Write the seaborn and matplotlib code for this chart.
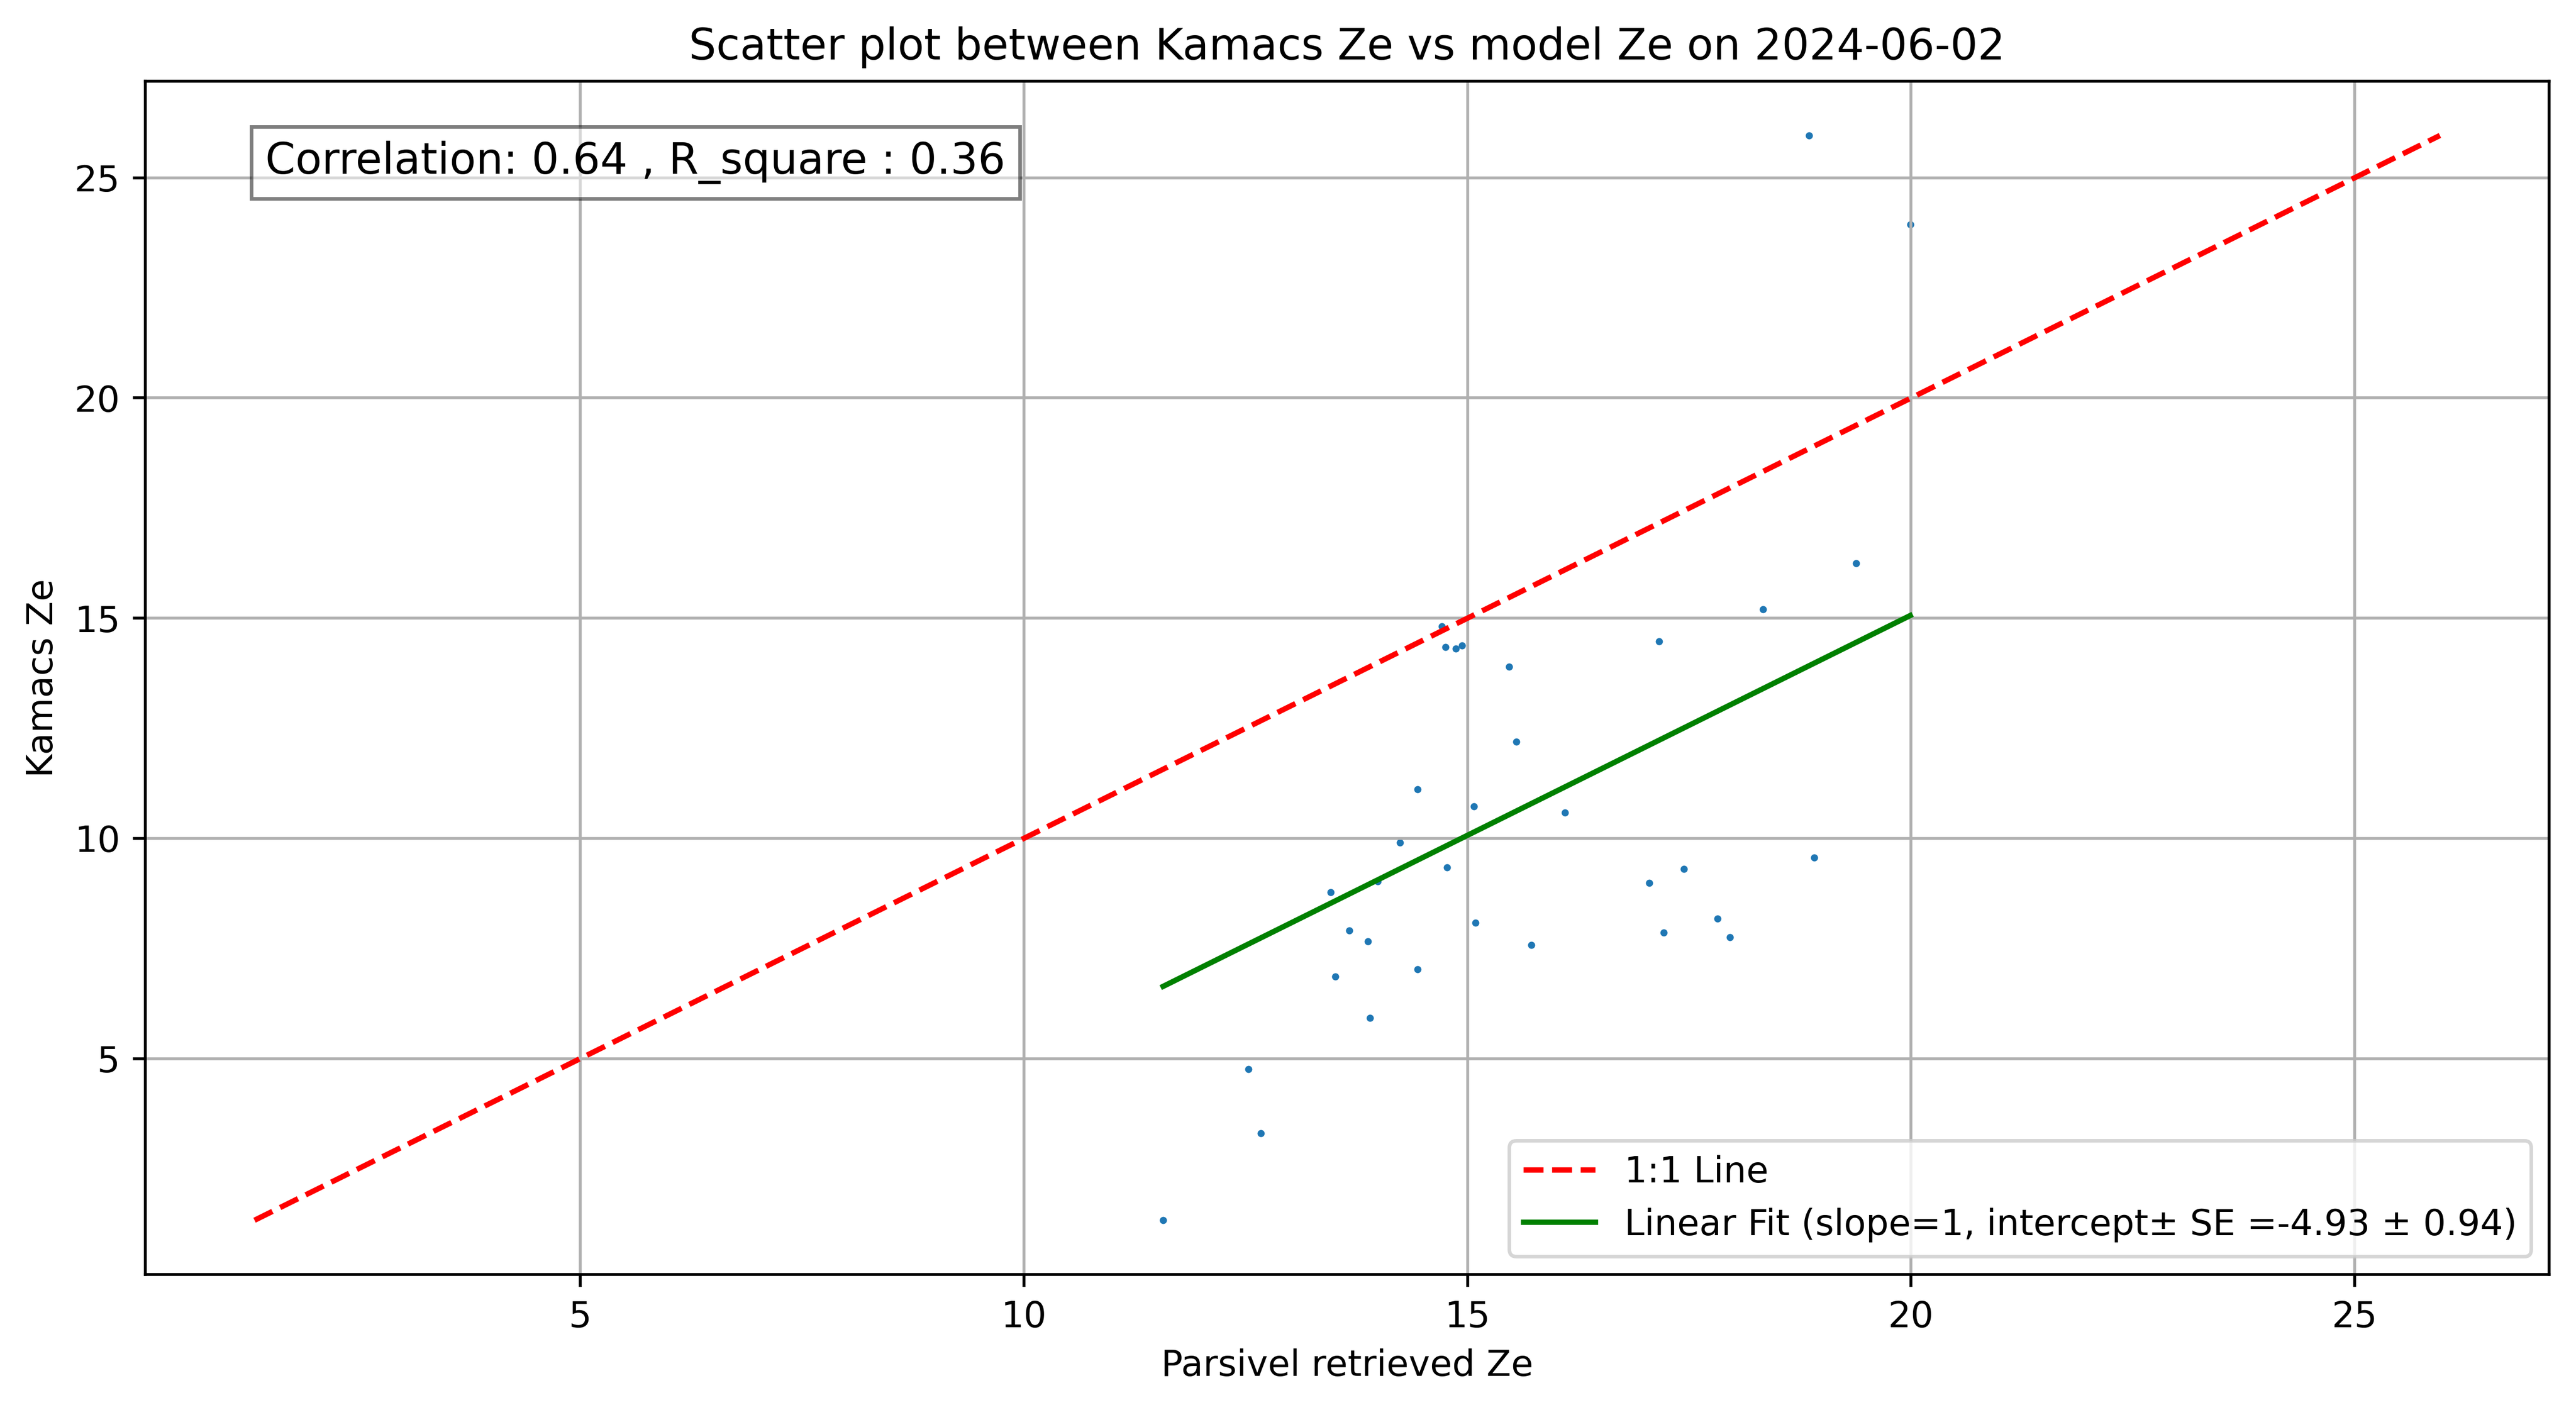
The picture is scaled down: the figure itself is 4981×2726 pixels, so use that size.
import numpy as np
import pandas as pd
import seaborn as sns
import matplotlib.pyplot as plt

# Parsivel retrieved Ze (x) vs Kamacs Ze (y)
parsivel_ze = [18.85, 19.99, 19.38, 18.33, 17.16, 14.71, 14.75, 14.87, 14.94,
               15.47, 15.55, 14.44, 15.07, 16.10, 14.24, 14.77, 18.91, 17.44,
               17.05, 13.99, 13.46, 15.09, 13.67, 13.88, 15.72, 17.82, 17.21,
               17.96, 14.44, 13.51, 13.90, 12.53, 12.67, 11.57]
kamacs_ze = [25.96, 23.94, 16.25, 15.20, 14.47, 14.81, 14.34, 14.31, 14.38,
             13.90, 12.19, 11.11, 10.73, 10.59, 9.90, 9.34, 9.57, 9.31,
             8.99, 9.02, 8.78, 8.09, 7.91, 7.66, 7.58, 8.18, 7.86,
             7.76, 7.03, 6.86, 5.92, 4.76, 3.31, 1.33]

# stats shown in the chart
correlation = 0.64
r_square = 0.36
intercept = -4.93
intercept_se = 0.94
plot_date = "2024-06-02"

df = pd.DataFrame({"parsivel": parsivel_ze, "kamacs": kamacs_ze})

# 1:1 line over the full data range
lo = min(df["parsivel"].min(), df["kamacs"].min())
hi = max(df["parsivel"].max(), df["kamacs"].max())
one_to_one = pd.DataFrame({"x": [lo, hi], "y": [lo, hi]})

# fixed slope fit (slope = 1) over the x range
fit_x = np.array([df["parsivel"].min(), df["parsivel"].max()])
fit = pd.DataFrame({"x": fit_x, "y": fit_x + intercept})

fig, ax = plt.subplots(figsize=(4981 / 500, 2726 / 500))
fig.subplots_adjust(left=0.0564, right=0.9896, top=0.9424, bottom=0.0961)

sns.scatterplot(data=df, x="parsivel", y="kamacs", s=4, linewidth=0,
                color="#1f77b4", ax=ax)
sns.lineplot(data=one_to_one, x="x", y="y", color="red", linestyle="--",
             linewidth=1.5, label="1:1 Line", ax=ax)
sns.lineplot(data=fit, x="x", y="y", color="green", linewidth=1.5,
             label=f"Linear Fit (slope=1, intercept\u00b1 SE ={intercept:.2f} \u00b1 {intercept_se:.2f})",
             ax=ax)

ax.text(0.05, 0.95, f"Correlation: {correlation:.2f} , R_square : {r_square:.2f}",
        transform=ax.transAxes, fontsize=12, va="top",
        bbox=dict(facecolor="white", alpha=0.5))

ax.set_xticks([5, 10, 15, 20, 25])
ax.set_yticks([5, 10, 15, 20, 25])
ax.set_xlabel("Parsivel retrieved Ze")
ax.set_ylabel("Kamacs Ze")
ax.set_title(f"Scatter plot between Kamacs Ze vs model Ze on {plot_date}")
ax.grid(True)
ax.legend(loc="lower right")

plt.savefig("out.png", dpi=500)
